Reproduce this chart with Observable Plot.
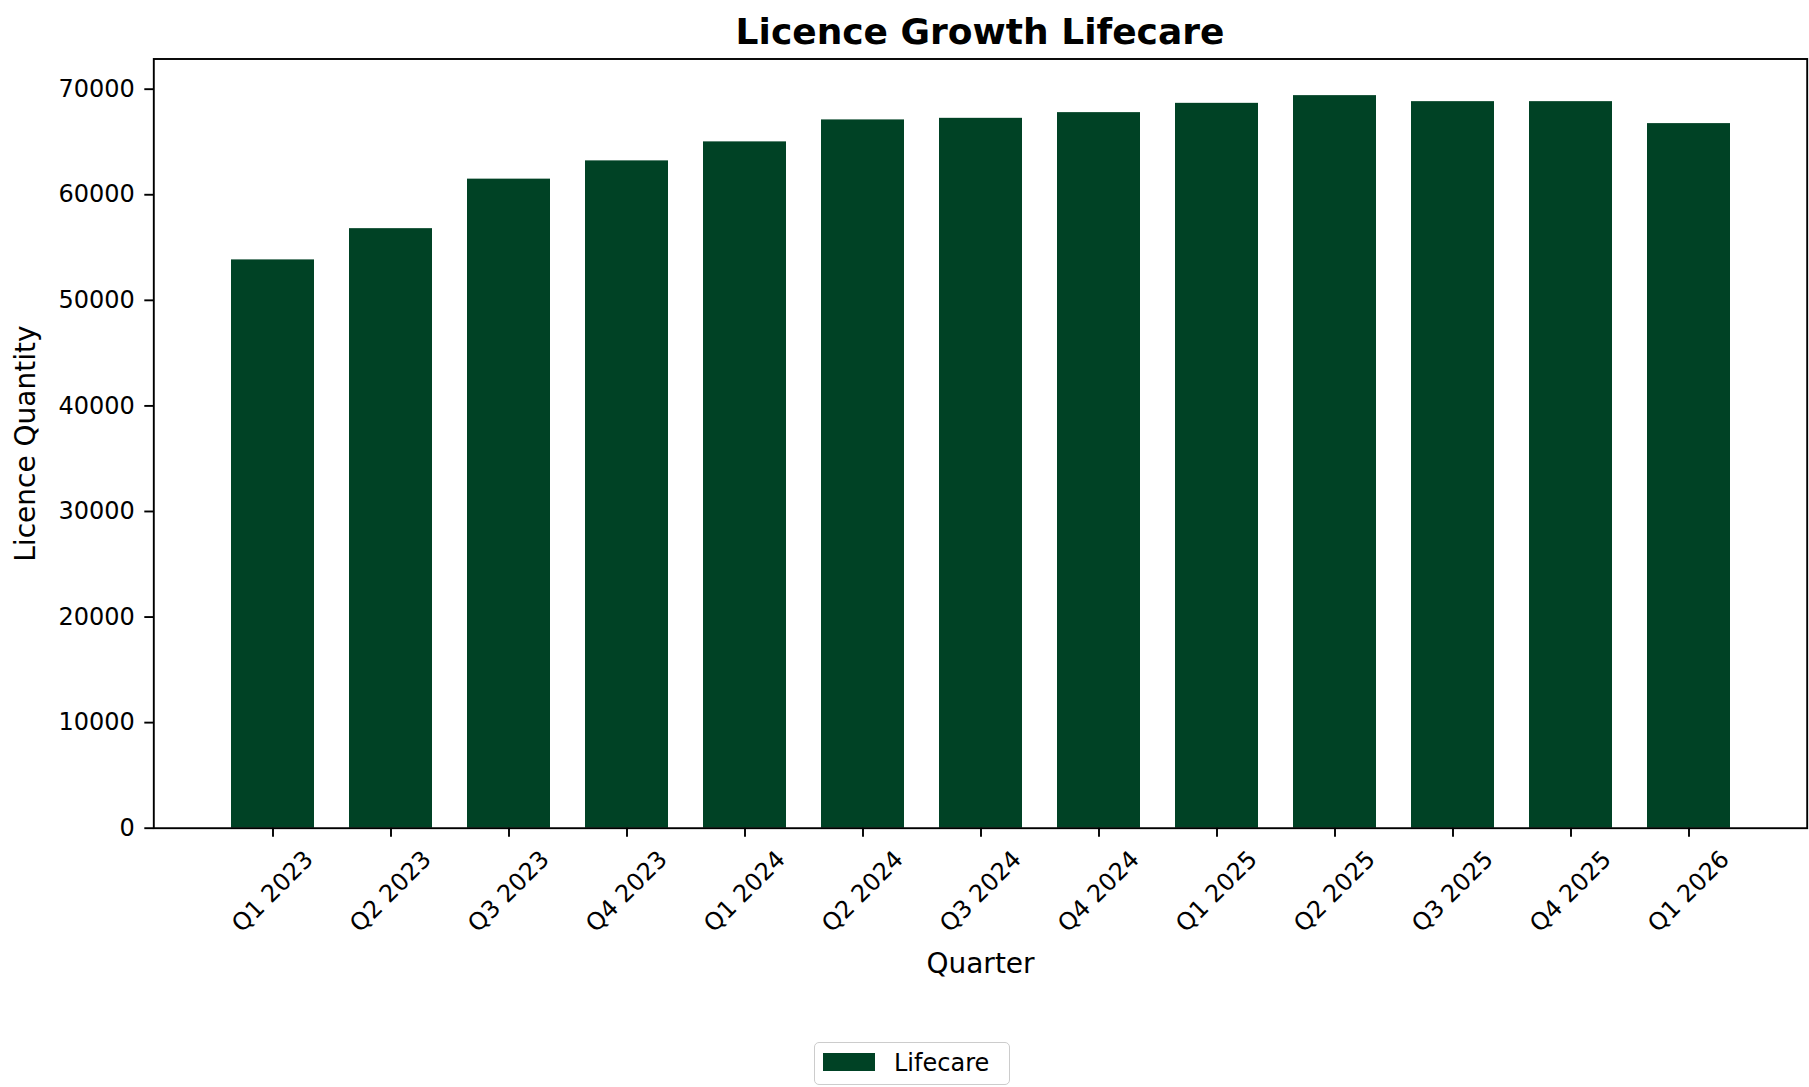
<!DOCTYPE html>
<html>
<head>
<meta charset="utf-8">
<script src="https://cdn.jsdelivr.net/npm/d3@7"></script>
<script src="https://cdn.jsdelivr.net/npm/@observablehq/plot@0.6"></script>
<style>
  html, body { margin: 0; padding: 0; background: #ffffff; overflow: hidden; }
  #wrap { position: relative; width: 1809px; height: 1087px; font-family: "DejaVu Sans", sans-serif; color: #000; }
  #chart { position: absolute; left: 0; top: 0; }
  #chart svg { max-width: none; }
  #title { position: absolute; left: 153px; width: 1654px; top: 11px; text-align: center; font-weight: bold; font-size: 36px; line-height: normal; white-space: nowrap; }
  #legend { position: absolute; left: 814px; top: 1042px; width: 196px; height: 43px; box-sizing: border-box; border: 1.9px solid #cccccc; border-radius: 5px; background: rgba(255,255,255,0.8); }
  #legend .sw { position: absolute; left: 8px; top: 10px; width: 52px; height: 18px; }
  #legend .lab { position: absolute; left: 79px; top: 6px; font-size: 24px; line-height: normal; white-space: nowrap; }
</style>
</head>
<body>
<div id="wrap">
  <div id="chart"></div>
  <div id="title"></div>
  <div id="legend"><div class="sw"></div><div class="lab"></div></div>
</div>
<script>
// ---- data ----
const chartTitle = "Licence Growth Lifecare";
const seriesName = "Lifecare";
const xLabel = "Quarter";
const yLabel = "Licence Quantity";
const quarters = ["Q1 2023", "Q2 2023", "Q3 2023", "Q4 2023", "Q1 2024", "Q2 2024", "Q3 2024", "Q4 2024", "Q1 2025", "Q2 2025", "Q3 2025", "Q4 2025", "Q1 2026"];
const licences = [53830, 56790, 61480, 63210, 65010, 67090, 67240, 67780, 68660, 69390, 68820, 68820, 66740];
const yTicks = [0, 10000, 20000, 30000, 40000, 50000, 60000, 70000];
const barColor = "#004225";

const rows = quarters.map((q, i) => ({quarter: q, value: licences[i]}));

const W = 1809, H = 1087;
const mTop = 58.5, mBottom = 259.3, mLeft = 153.3, mRight = 2.3;

const chart = Plot.plot({
  width: W,
  height: H,
  marginTop: mTop,
  marginBottom: mBottom,
  marginLeft: mLeft,
  marginRight: mRight,
  style: {fontFamily: "DejaVu Sans", fontSize: "24px", color: "#000", background: "transparent"},
  x: {type: "band", domain: quarters, paddingInner: 0.3, paddingOuter: 0.635, align: 0.5, label: null},
  y: {domain: [0, d3.max(licences) * 1.05], label: null},
  marks: [
    Plot.barY(rows, {x: "quarter", y: "value", fill: barColor}),
    Plot.axisY({ticks: yTicks, tickSize: 9, tickPadding: 10, tickFormat: d3.format("d"), strokeWidth: 1.9, fontSize: 24, fill: "#000", label: null}),
    Plot.axisX({tickSize: 9, strokeWidth: 1.9, fill: "none", label: null}),
    Plot.text(quarters, {x: d => d, frameAnchor: "bottom", rotate: -45, textAnchor: "end", lineAnchor: "top", dx: 29.5, dy: 20.5, fontSize: 24, fill: "#000"}),
    Plot.text([xLabel], {frameAnchor: "bottom", lineAnchor: "middle", dy: 136, fontSize: 28, fill: "#000"}),
    Plot.text([yLabel], {frameAnchor: "left", rotate: -90, lineAnchor: "middle", textAnchor: "middle", dx: -127.7, fontSize: 28, fill: "#000"}),
    Plot.frame({stroke: "#000", strokeWidth: 1.9})
  ]
});
document.getElementById("chart").appendChild(chart);
document.getElementById("title").textContent = chartTitle;
document.querySelector("#legend .sw").style.background = barColor;
document.querySelector("#legend .lab").textContent = seriesName;
</script>
</body>
</html>
